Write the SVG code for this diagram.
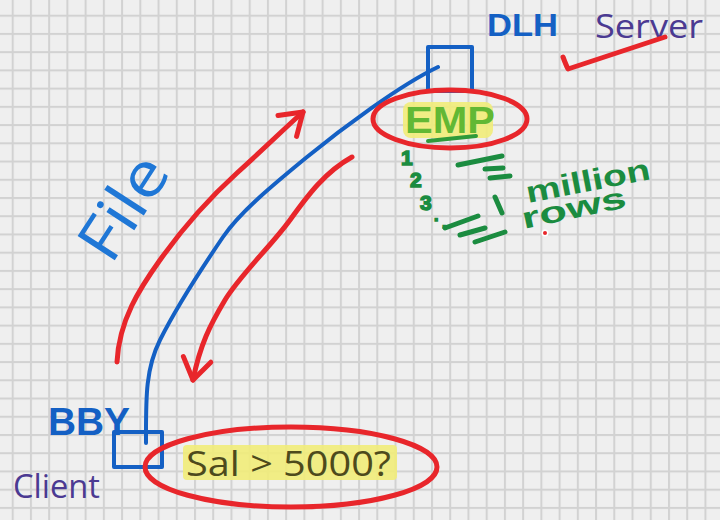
<svg xmlns="http://www.w3.org/2000/svg" width="720" height="520" viewBox="0 0 720 520">
<style>
.red{fill:none;stroke:#e8262b;stroke-width:5;stroke-linecap:round;stroke-linejoin:round}
.blue{fill:none;stroke:#1460c4;stroke-width:4;stroke-linecap:round;stroke-linejoin:round}
.grn{fill:none;stroke:#1b8c40;stroke-width:5;stroke-linecap:round}
.hand{font-family:"Open Sans","Liberation Sans",sans-serif}
.bold{font-family:"Liberation Sans",Arial,sans-serif;font-weight:bold}
.purple{fill:#4b3a92}
.hl{fill:#f1ec79;opacity:0.9}
.num{font-family:"Liberation Sans",Arial,sans-serif;font-weight:bold;fill:#1b8c40;stroke:#1b8c40;stroke-width:1.5}
</style>
<defs>
<pattern id="grid" patternUnits="userSpaceOnUse" x="11.7" y="14.7" width="18.23" height="18.23">
<rect width="18.23" height="18.23" fill="#efefef"/>
<rect width="2" height="18.23" fill="#d2d2d2"/>
<rect width="18.23" height="2" fill="#d2d2d2"/>
</pattern>
<marker id="vhead" markerUnits="userSpaceOnUse" viewBox="-26 -18 30 36" markerWidth="30" markerHeight="36" refX="0" refY="0" orient="auto" overflow="visible">
<path d="M-21,-14 L0,0 L-21,14" fill="none" stroke="#e8262b" stroke-width="5" stroke-linecap="round" stroke-linejoin="round"/>
</marker>
</defs>
<rect width="720" height="520" fill="url(#grid)"/>

<g id="connectors">
<path class="blue" d="M438,67 C400,85 340,130 307,157 S240,212 223,237 S175,310 160,340 S146,400 146,443"/>
<path class="red" marker-end="url(#vhead)" d="M117,362 C119,320 140,288 160,260 S205,202 237,173 S285,128 303,112"/>
<path class="red" marker-end="url(#vhead)" d="M352,157 C325,172 308,195 290,220 S240,275 225,300 S200,345 193,380"/>
</g>

<text class="hand" transform="translate(111,266) rotate(-57)" font-size="62" fill="#1f77d6" textLength="112" lengthAdjust="spacingAndGlyphs">File</text>

<g id="server">
<rect class="blue" x="428" y="47" width="44" height="44"/>
<text class="bold" x="487" y="36" font-size="31" fill="#1460c4" textLength="71" lengthAdjust="spacingAndGlyphs">DLH</text>
<text class="hand purple" x="595" y="38" font-size="32" textLength="108" lengthAdjust="spacingAndGlyphs">Server</text>
<path class="red" d="M563,57 Q566,65 568,69 L665,37"/>
</g>

<g id="emp">
<rect class="hl" x="403" y="102" width="90" height="36" rx="8"/>
<text class="bold" x="405" y="133" font-size="36" fill="#62b834" textLength="90" lengthAdjust="spacingAndGlyphs">EMP</text>
<path d="M428,141 L476,136" fill="none" stroke="#2f9a3a" stroke-width="4" stroke-linecap="round"/>
<ellipse class="red" cx="450" cy="119" rx="77" ry="29"/>
</g>

<g id="rows">
<text class="num" x="401" y="165" font-size="21">1</text>
<text class="num" x="410" y="187" font-size="21">2</text>
<text class="num" x="420" y="210" font-size="21">3</text>
<text class="num" x="434" y="221" font-size="16">.</text>
<text class="num" x="442" y="228" font-size="16">.</text>
<path class="grn" d="M458,165 L502,156 M485,169 L503,168 M490,178 L510,176 M495,197 L502,213 M445,228 L478,216 M460,235 L485,228 M475,242 L505,232"/>
<text class="bold" transform="translate(528,203) rotate(-11)" font-size="30" fill="#1b8c40" textLength="126" lengthAdjust="spacingAndGlyphs">million</text>
<text class="bold" transform="translate(524,229) rotate(-12)" font-size="30" fill="#1b8c40" textLength="106" lengthAdjust="spacingAndGlyphs">rows</text>
<circle cx="545" cy="233" r="3.5" fill="#ffffff"/>
<circle cx="545" cy="233" r="2" fill="#e8262b"/>
</g>

<g id="client">
<rect class="blue" x="114" y="432" width="48" height="35"/>
<text class="bold" x="48" y="435" font-size="38" fill="#1460c4" textLength="82" lengthAdjust="spacingAndGlyphs">BBY</text>
<text class="hand purple" x="13" y="498" font-size="32" textLength="87" lengthAdjust="spacingAndGlyphs">Client</text>
</g>

<g id="condition">
<rect class="hl" x="183" y="445" width="214" height="35" rx="4"/>
<text class="hand" x="186" y="476" font-size="34" fill="#4d4a1c" textLength="205" lengthAdjust="spacingAndGlyphs">Sal &gt; 5000?</text>
<ellipse class="red" cx="291" cy="467" rx="146" ry="40"/>
</g>
</svg>
